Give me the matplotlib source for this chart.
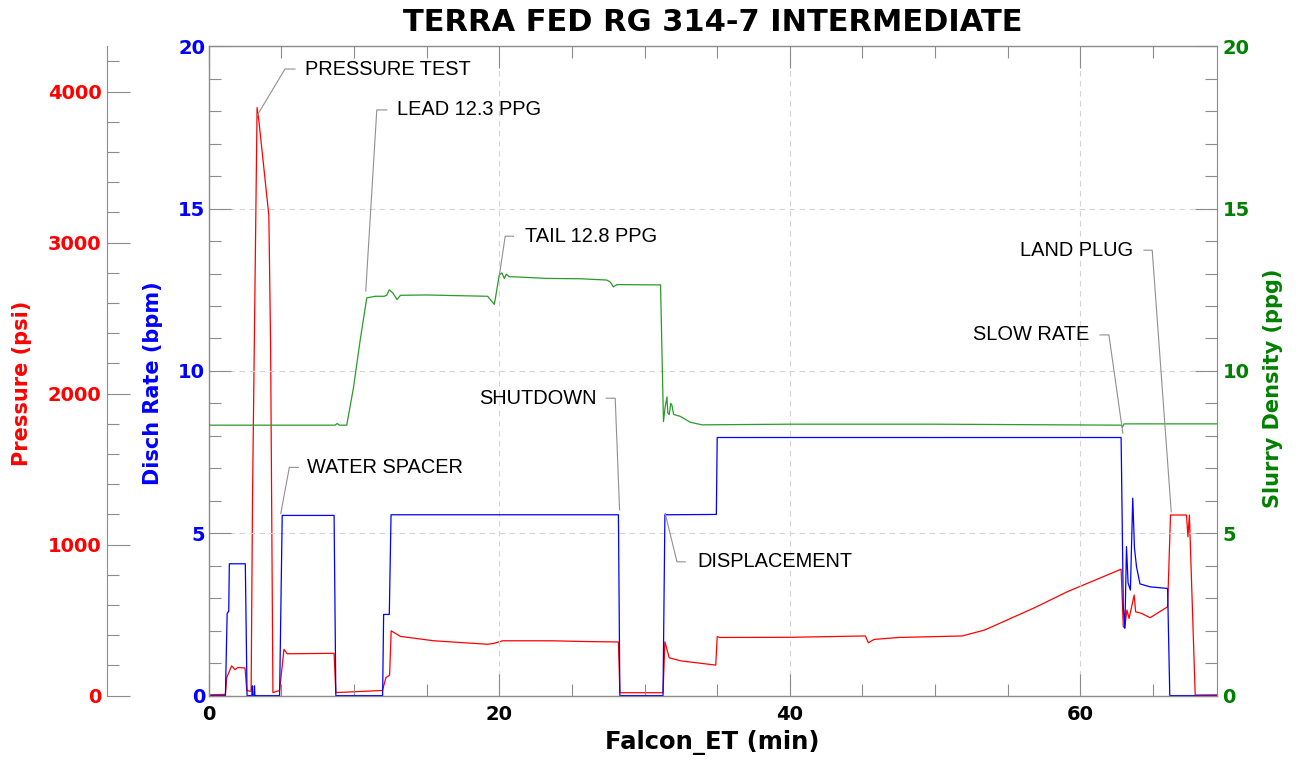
import matplotlib
matplotlib.use("Agg")
import matplotlib.pyplot as plt
from matplotlib.ticker import MultipleLocator

# ---------------- data ----------------
title = "TERRA FED RG 314-7 INTERMEDIATE"
x_label = "Falcon_ET (min)"
pressure_label = "Pressure (psi)"
rate_label = "Disch Rate (bpm)"
density_label = "Slurry Density (ppg)"

# Pressure (psi)
t_pressure = [0, 1.15, 1.24, 1.58, 1.81, 2.0, 2.5, 2.62, 2.85, 2.92, 3.02, 3.33, 3.45,
              4.14, 4.26, 4.42, 4.88, 5.18, 5.41, 8.63, 8.75, 11.96, 12.2, 12.45, 12.56,
              13.2, 15.5, 19.2, 19.6, 20.23, 23.56, 26.0, 28.2, 28.3, 31.27, 31.4, 31.7,
              32.5, 34.9, 35.0, 35.2, 40.0, 45.2, 45.4, 45.8, 47.5, 51.86, 53.4, 56.8,
              59.1, 62.8, 62.95, 63.05, 63.2, 63.35, 63.7, 63.8, 64.2, 64.5, 64.8, 66.0,
              66.2, 67.3, 67.4, 67.5, 67.9, 69.4]
pressure = [5, 8, 120, 197, 172, 186, 183, 34, 29, 30, 1350, 3894, 3810,
            3180, 2322, 20, 34, 306, 277, 280, 20, 34, 120, 135, 429,
            392, 363, 340, 345, 363, 363, 358, 355, 19, 19, 356, 250,
            230, 202, 390, 385, 386, 395, 350, 372, 385, 395, 434, 580,
            688, 837, 456, 450, 567, 511, 666, 555, 545, 530, 516, 588,
            1196, 1196, 1052, 1196, 4, 5]

# Discharge rate (bpm)
t_rate = [0, 1.15, 1.27, 1.38, 1.42, 2.52, 2.64, 2.97, 3.0, 3.03, 3.12, 3.15, 3.18,
          4.88, 5.06, 8.63, 8.75, 11.97, 12.04, 12.43, 12.55, 28.2, 28.3, 31.27, 31.4,
          34.94, 35.0, 62.8, 62.95, 63.06, 63.17, 63.28, 63.44, 63.6, 63.72, 63.86,
          64.1, 64.8, 66.0, 66.15, 69.4]
rate = [0, 0, 2.53, 2.6, 4.06, 4.06, 0, 0, 0.3, 0, 0, 0.3, 0,
        0, 5.55, 5.55, 0, 0, 2.5, 2.5, 5.57, 5.57, 0, 0, 5.57,
        5.58, 7.95, 7.95, 2.74, 2.07, 4.59, 3.47, 3.25, 6.08, 4.54, 3.97,
        3.44, 3.35, 3.3, 0, 0]

# Slurry density (ppg)
t_density = [0, 8.7, 8.84, 9.0, 9.5, 9.96, 10.42, 10.88, 11.46, 12.08, 12.25, 12.43,
             12.68, 12.96, 13.2, 15.0, 17.1, 19.2, 19.66, 20.0, 20.18, 20.35, 20.48,
             20.7, 20.98, 23.3, 25.6, 27.4, 27.6, 27.7, 27.85, 28.1, 31.1, 31.3, 31.42,
             31.54, 31.6, 31.7, 31.8, 31.88, 32.0, 32.46, 33.15, 33.95, 40.0, 50.0,
             62.8, 62.9, 63.0, 69.4]
density = [8.33, 8.33, 8.38, 8.33, 8.33, 9.47, 10.93, 12.25, 12.3, 12.3, 12.33, 12.5,
           12.4, 12.2, 12.33, 12.34, 12.32, 12.3, 12.05, 12.95, 13.02, 12.85, 12.98,
           12.9, 12.9, 12.85, 12.84, 12.8, 12.75, 12.7, 12.59, 12.66, 12.65, 8.44, 8.9,
           9.2, 8.7, 8.66, 9.0, 8.95, 8.66, 8.6, 8.42, 8.34, 8.36, 8.36,
           8.33, 8.27, 8.37, 8.37]

# Annotations: label, data point, elbow, end of horizontal, text position, alignment
annotations = [
    ("PRESSURE TEST", (3.31, 17.85), (5.25, 19.30), (5.94, 19.30), (6.63, 19.30), "left"),
    ("LEAD 12.3 PPG", (10.81, 12.46), (11.57, 18.04), (12.26, 18.04), (12.95, 18.04), "left"),
    ("TAIL 12.8 PPG", (19.99, 12.90), (20.41, 14.15), (20.98, 14.15), (21.74, 14.15), "left"),
    ("SHUTDOWN", (28.28, 5.72), (27.98, 9.16), (27.36, 9.16), (26.67, 9.16), "right"),
    ("DISPLACEMENT", (31.42, 5.61), (32.23, 4.12), (32.80, 4.12), (33.61, 4.12), "left"),
    ("WATER SPACER", (4.96, 5.61), (5.55, 7.03), (6.17, 7.03), (6.75, 7.03), "left"),
    ("SLOW RATE", (62.92, 8.08), (61.96, 11.11), (61.34, 11.11), (60.63, 11.11), "right"),
    ("LAND PLUG", (66.25, 5.66), (64.94, 13.72), (64.37, 13.72), (63.64, 13.72), "right"),
]

x_max = 69.4
rate_max = 20
pressure_max = 4300
density_max = 20

# ---------------- styling ----------------
RED = "#ff0000"
BLUE = "#0000ff"
GREEN = "#008000"
GRAY = "#8c8c8c"
plt.rcParams["font.family"] = ["DejaVu Sans"]
plt.rcParams["font.weight"] = "bold"

W, H = 1303, 763
fig = plt.figure(figsize=(W / 100, H / 100), dpi=100)
fig.patch.set_facecolor("white")

left, right, bottom, top = 208.7, 1217.0, 695.6, 46.3
ax = fig.add_axes([left / W, 1 - bottom / H, (right - left) / W, (bottom - top) / H])
pax = ax.twinx()
dax = ax.twinx()

# z-order: pressure under rate under density
pax.set_zorder(1)
ax.set_zorder(2)
dax.set_zorder(3)
ax.patch.set_visible(False)

pax.plot(t_pressure, pressure, color=RED, lw=0.9)
ax.plot(t_rate, rate, color=BLUE, lw=0.9)
dax.plot(t_density, density, color="#2a9a2a", lw=0.9)

ax.set_xlim(0, x_max)
ax.set_ylim(0, rate_max)
pax.set_ylim(0, pressure_max)
dax.set_ylim(0, density_max)

# grid
ax.grid(True, which="major", ls=(0, (5, 4)), color="#d4d4d4", lw=0.8)

# spines
for s in ax.spines.values():
    s.set_color(GRAY)
    s.set_linewidth(1.0)
ax.spines["right"].set_visible(False)
for name in ["top", "bottom", "right"]:
    pax.spines[name].set_visible(False)
pax.spines["left"].set_visible(True)
pax.spines["left"].set_position(("axes", (107.3 - left) / (right - left)))
pax.spines["left"].set_color(GRAY)
pax.yaxis.set_ticks_position("left")
for name in ["top", "bottom", "left"]:
    dax.spines[name].set_visible(False)
dax.spines["right"].set_color(GRAY)

# ticks
ax.xaxis.set_major_locator(MultipleLocator(20))
ax.xaxis.set_minor_locator(MultipleLocator(5))
ax.yaxis.set_major_locator(MultipleLocator(5))
ax.yaxis.set_minor_locator(MultipleLocator(1))
pax.yaxis.set_major_locator(MultipleLocator(1000))
pax.yaxis.set_minor_locator(MultipleLocator(200))
dax.yaxis.set_major_locator(MultipleLocator(5))
dax.yaxis.set_minor_locator(MultipleLocator(1))

tick_kw = dict(direction="in", color=GRAY, width=0.8)
ax.tick_params(axis="x", which="major", top=True, bottom=True, length=16, pad=7,
               labelsize=14, labelcolor="black", **tick_kw)
ax.tick_params(axis="x", which="minor", top=True, bottom=True, length=8.5, **tick_kw)
ax.tick_params(axis="y", which="major", left=True, right=False, length=16, pad=2.5,
               labelsize=14, labelcolor=BLUE, **tick_kw)
ax.tick_params(axis="y", which="minor", left=True, right=False, length=8.5, **tick_kw)
pax.tick_params(axis="y", which="major", length=16.5, pad=4, labelsize=14,
                labelcolor=RED, **tick_kw)
pax.tick_params(axis="y", which="minor", length=8.5, **tick_kw)
dax.tick_params(axis="y", which="major", length=16, pad=4, labelsize=14,
                labelcolor=GREEN, **tick_kw)
dax.tick_params(axis="y", which="minor", length=8.5, **tick_kw)

# titles and axis labels
fig.text(713 / W, 1 - 31 / H, title, ha="center", va="baseline", fontsize=22,
         fontweight="bold", color="black")
fig.text(712.5 / W, 1 - 749 / H, x_label, ha="center", va="baseline", fontsize=17.5,
         fontweight="bold", color="black")
fig.text(22 / W, 1 - 383 / H, pressure_label, rotation=90, ha="center", va="center",
         fontsize=15, fontweight="bold", color=RED)
fig.text(153 / W, 1 - 383 / H, rate_label, rotation=90, ha="center", va="center",
         fontsize=15, fontweight="bold", color=BLUE)
fig.text(1273 / W, 1 - 388 / H, density_label, rotation=90, ha="center", va="center",
         fontsize=15, fontweight="bold", color=GREEN)

# annotations with gray leader lines
for label, pt, elbow, end, txt, align in annotations:
    dax.plot([pt[0], elbow[0], end[0]], [pt[1], elbow[1], end[1]], color="#909090", lw=0.8)
    dax.text(txt[0], txt[1], label, ha=align, va="center", fontsize=14.4,
             fontweight="normal", family=["Liberation Sans", "DejaVu Sans"], color="black")

fig.savefig("out.png", dpi=100, facecolor="white")
